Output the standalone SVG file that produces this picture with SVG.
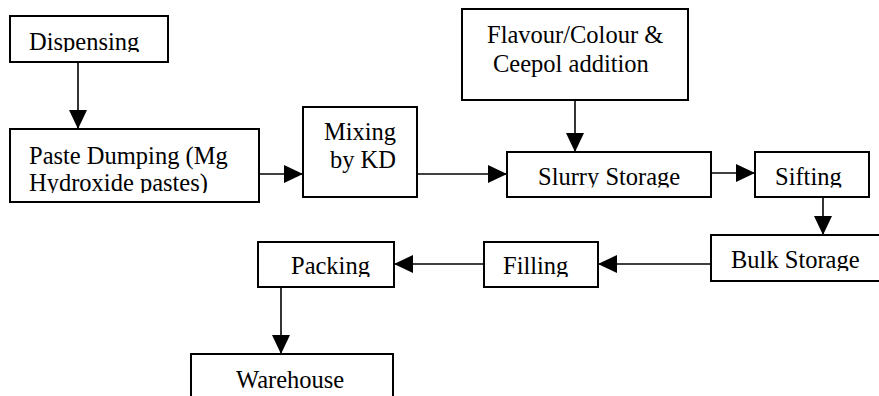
<svg xmlns="http://www.w3.org/2000/svg" width="879" height="396" viewBox="0 0 879 396">
  <style>
    .box { fill: #ffffff; stroke: #000000; stroke-width: 2; }
    .lbl { font-family: "Liberation Serif", "Times New Roman", serif; font-size: 24.5px; fill: #000000; }
    .wire { stroke: #000000; stroke-width: 1.6; fill: none; marker-end: url(#head); }
  </style>
  <defs>
    <marker id="head" markerUnits="userSpaceOnUse" markerWidth="19" markerHeight="18" refX="19" refY="9" orient="auto">
      <path d="M0,0 L19,9 L0,18 Z" fill="#000000"/>
    </marker>
    <!-- text areas of the boxes whose last line is cut short -->
    <clipPath id="cDisp"><rect x="10" y="16" width="158" height="36"/></clipPath>
    <clipPath id="cPaste"><rect x="10" y="129" width="249" height="64"/></clipPath>
    <clipPath id="cSlurry"><rect x="507" y="152" width="204" height="35.5"/></clipPath>
    <clipPath id="cSift"><rect x="755" y="152" width="114" height="35.5"/></clipPath>
    <clipPath id="cBulk"><rect x="711" y="235" width="168" height="36"/></clipPath>
    <clipPath id="cFill"><rect x="484" y="242" width="114" height="35"/></clipPath>
    <clipPath id="cPack"><rect x="258" y="242" width="136" height="35"/></clipPath>
  </defs>

  <g id="connectors">
    <line class="wire" x1="78" y1="62" x2="78" y2="129"/>
    <line class="wire" x1="259" y1="174" x2="303" y2="174"/>
    <line class="wire" x1="417" y1="174" x2="507" y2="174"/>
    <line class="wire" x1="575" y1="100" x2="575" y2="152"/>
    <line class="wire" x1="711" y1="173" x2="755" y2="173"/>
    <line class="wire" x1="823" y1="197" x2="823" y2="235"/>
    <line class="wire" x1="711" y1="264" x2="598" y2="264"/>
    <line class="wire" x1="484" y1="264" x2="394" y2="264"/>
    <line class="wire" x1="281" y1="287" x2="281" y2="354"/>
  </g>

  <g id="dispensing">
    <rect class="box" x="10" y="16" width="158" height="46"/>
    <text class="lbl" x="29" y="50" clip-path="url(#cDisp)">Dispensing</text>
  </g>

  <g id="paste-dumping">
    <rect class="box" x="10" y="129" width="249" height="73"/>
    <g clip-path="url(#cPaste)">
      <text class="lbl" x="29" y="164">Paste Dumping (Mg</text>
      <text class="lbl" x="29" y="191">Hydroxide pastes)</text>
    </g>
  </g>

  <g id="mixing">
    <rect class="box" x="303" y="107" width="114" height="90"/>
    <text class="lbl" x="360" y="140" text-anchor="middle">Mixing</text>
    <text class="lbl" x="363" y="168" text-anchor="middle">by KD</text>
  </g>

  <g id="flavour">
    <rect class="box" x="462" y="9" width="226" height="91"/>
    <text class="lbl" x="487" y="43">Flavour/Colour &amp;</text>
    <text class="lbl" x="493" y="72">Ceepol addition</text>
  </g>

  <g id="slurry-storage">
    <rect class="box" x="507" y="152" width="204" height="45"/>
    <text class="lbl" x="538" y="185" clip-path="url(#cSlurry)">Slurry Storage</text>
  </g>

  <g id="sifting">
    <rect class="box" x="755" y="152" width="114" height="45"/>
    <text class="lbl" x="775" y="185" clip-path="url(#cSift)">Sifting</text>
  </g>

  <g id="bulk-storage">
    <rect class="box" x="711" y="235" width="170" height="46"/>
    <text class="lbl" x="731" y="268" clip-path="url(#cBulk)">Bulk Storage</text>
  </g>

  <g id="filling">
    <rect class="box" x="484" y="242" width="114" height="45"/>
    <text class="lbl" x="503" y="274" clip-path="url(#cFill)">Filling</text>
  </g>

  <g id="packing">
    <rect class="box" x="258" y="242" width="136" height="45"/>
    <text class="lbl" x="291" y="274" clip-path="url(#cPack)">Packing</text>
  </g>

  <g id="warehouse">
    <rect class="box" x="191" y="354" width="202" height="50"/>
    <text class="lbl" x="236" y="388">Warehouse</text>
  </g>
</svg>
